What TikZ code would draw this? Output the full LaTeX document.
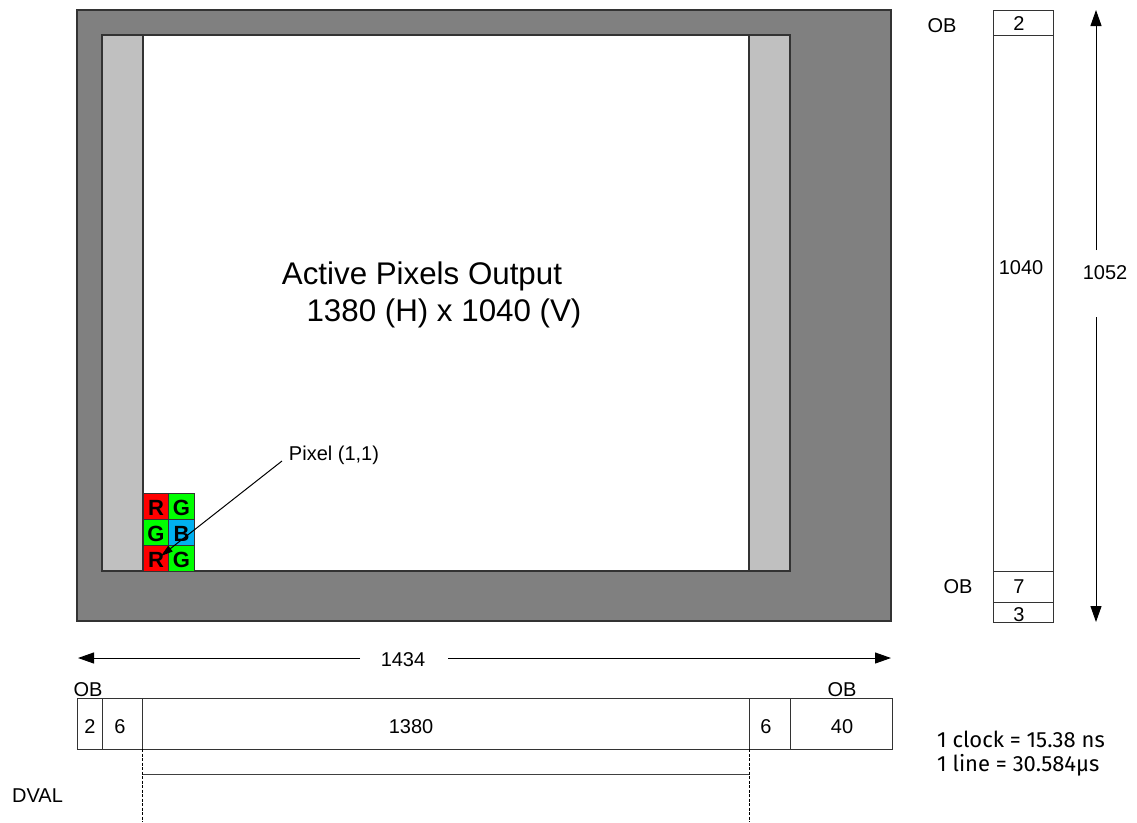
\documentclass[tikz,border=0pt]{standalone}
\usepackage{fontspec}
\setmainfont{Liberation Sans}
\newfontfamily\firafont{Fira Sans}
\usetikzlibrary{arrows.meta}
\tikzset{
  frame/.style={draw=black!80, line width=1.2pt},
  lbl/.style={inner sep=0pt, font=\fontsize{20}{24}\selectfont},
  big/.style={inner sep=0pt, font=\fontsize{31.3}{37}\selectfont},
  cell/.style={draw=black!80, line width=0.8pt},
  letter/.style={inner sep=0pt, font=\fontsize{22}{24}\selectfont\bfseries},
  dim/.style={line width=1pt, -{Triangle[length=16pt,width=11pt]}},
  dval/.style={line width=0.8pt, dash pattern=on 3pt off 1.5pt},
  note/.style={inner sep=0pt, anchor=west, font=\firafont\fontsize{22}{26}\selectfont},
}
\definecolor{dgray}{HTML}{808080}
\definecolor{lgray}{HTML}{C0C0C0}
\definecolor{pr}{HTML}{FF0000}
\definecolor{pg}{HTML}{00FF00}
\definecolor{pb}{HTML}{00B0F0}
\begin{document}
\begin{tikzpicture}[x=1pt,y=-1pt]
\useasboundingbox (0,0) rectangle (1137,822);
% sensor
\draw[frame, fill=dgray] (77,10) rectangle (891,621);
\draw[frame, fill=lgray] (102,35) rectangle (143,571);
\draw[frame, fill=white] (143,35) rectangle (749,571);
\draw[frame, fill=lgray] (749,35) rectangle (790,571);
\node[big] (t1) at (422,276) {Active Pixels Output};
\node[big] (t2) at (444,313) {1380 (H) x 1040 (V)};
% Bayer cells
\draw[cell, fill=pr] (143,493) rectangle (168.7,519);
\draw[cell, fill=pg] (168.7,493) rectangle (194,519);
\draw[cell, fill=pg] (143,519) rectangle (168.7,545);
\draw[cell, fill=pb] (168.7,519) rectangle (194,545);
\draw[cell, fill=pr] (143,545) rectangle (168.7,571);
\draw[cell, fill=pg] (168.7,545) rectangle (194,571);
\node[letter] (c11) at (156,508) {R};
\node[letter] (c12) at (181.5,508) {G};
\node[letter] (c21) at (156,534) {G};
\node[letter] (c22) at (181.5,534) {B};
\node[letter] (c31) at (156,560) {R};
\node[letter] (c32) at (181.5,560) {G};
\node[lbl] (pix) at (334,455) {Pixel (1,1)};
\coordinate (pixA) at (282,461);
\coordinate (pixT) at (161,556);
\draw[line width=1pt, -{Triangle[length=12pt,width=7pt]}] (pixA) -- (pixT);
% right column
\draw[frame, line width=1pt] (993,10) rectangle (1053,622);
\draw[line width=1pt, black!80] (993,35) -- (1053,35);
\draw[line width=1pt, black!80] (993,571) -- (1053,571);
\draw[line width=1pt, black!80] (993,602) -- (1053,602);
\node[lbl] (v2) at (1019,24) {2};
\node[lbl] (v1040) at (1021,268) {1040};
\node[lbl] (v7) at (1019,587) {7};
\node[lbl] (v3) at (1019,615) {3};
\node[lbl] (ob1) at (942,26) {OB};
\node[lbl] (ob2) at (958,587) {OB};
\node[lbl] (h1052) at (1105,273) {1052};
\coordinate (vtop) at (1096,10);
\coordinate (vbot) at (1096,622);
\coordinate (vg1) at (1096,250);
\coordinate (vg2) at (1096,317);
\draw[dim] (vg1) -- (vtop);
\draw[dim] (vg2) -- (vbot);
% horizontal dimension
\node[lbl] (h1434) at (403,660) {1434};
\coordinate (hl) at (78,658);
\coordinate (hr) at (891,658);
\coordinate (hg1) at (360,658);
\coordinate (hg2) at (448,658);
\draw[dim] (hg1) -- (hl);
\draw[dim] (hg2) -- (hr);
% line bar
\draw[frame, line width=1pt, fill=white] (77,698) rectangle (892,749);
\foreach \xx in {102.7,142.7,749.3,790} \draw[line width=1pt, black!80] (\xx,698) -- (\xx,749);
\node[lbl] (b2) at (90,727) {2};
\node[lbl] (b6a) at (120,727) {6};
\node[lbl] (b1380) at (411,727) {1380};
\node[lbl] (b6b) at (766,727) {6};
\node[lbl] (b40) at (842,727) {40};
\node[lbl] (obl) at (88,690) {OB};
\node[lbl] (obr) at (842,690) {OB};
% DVAL
\node[lbl] (dval) at (37.5,796) {DVAL};
\draw[dval] (142.7,749) -- (142.7,822);
\draw[dval] (749.3,749) -- (749.3,822);
\draw[line width=1pt, black!75] (142.7,774.3) -- (749.3,774.3);
% timing
\node[note] (clk) at (937,739) {1 clock = 15.38 ns};
\node[note] (lin) at (937,765) {1 line = 30.584µs};
\end{tikzpicture}
\end{document}
